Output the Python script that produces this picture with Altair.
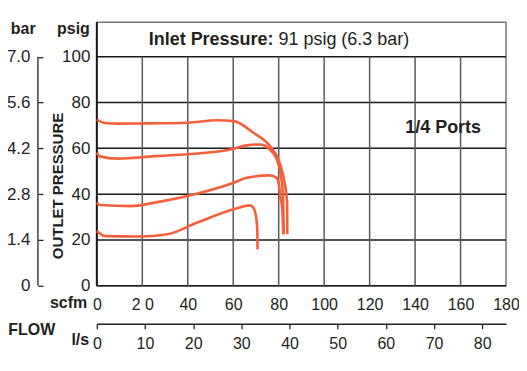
import altair as alt
import pandas as pd

FONT = "Liberation Sans"
TXT = "#231f20"
ORANGE = "#f5603a"

# ---- data ----
psig_ticks = [0, 20, 40, 60, 80, 100]
scfm_ticks = [0, 20, 40, 60, 80, 100, 120, 140, 160, 180]
scfm_grid = [20, 40, 60, 80, 100, 120, 140, 160]
ls_ticks = [0, 10, 20, 30, 40, 50, 60, 70, 80]
SCFM_PER_LS = 2.11888

c1_scfm = [0, 3.3, 9.4, 22.5, 39.9, 52.9, 60.2, 68.9, 76.1, 80.4, 82.6, 83.7, 83.8]
c1_psig = [72.6, 71.1, 70.8, 70.9, 71.2, 72.3, 71.9, 66.8, 61.0, 53.7, 45.0, 36.3, 22.5]

c2_scfm = [0, 1.2, 9.4, 25.4, 39.9, 58.7, 66.0, 71.7, 76.1, 79.7, 81.2, 81.9, 82.2]
c2_psig = [58.1, 56.5, 55.5, 56.6, 57.4, 59.5, 61.3, 61.7, 59.5, 53.7, 46.5, 39.2, 22.5]

c3_scfm = [0, 1.2, 15.2, 25.4, 39.9, 60.2, 66.0, 76.1, 79.0, 80.2, 80.7, 81.6, 82.0]
c3_psig = [36.3, 35.3, 34.8, 36.3, 39.2, 45.0, 47.2, 48.2, 47.2, 43.5, 39.2, 33.4, 22.5]

c4_scfm = [0, 3.7, 18.1, 31.2, 44.2, 60.2, 67.4, 68.9, 70.0, 70.6, 70.7]
c4_psig = [23.9, 21.7, 21.5, 22.5, 27.6, 33.4, 35.1, 34.1, 30.4, 24.6, 15.9]

rows = []
for name, xs, ys in [("c1", c1_scfm, c1_psig), ("c2", c2_scfm, c2_psig),
                     ("c3", c3_scfm, c3_psig), ("c4", c4_scfm, c4_psig)]:
    for i, (x, y) in enumerate(zip(xs, ys)):
        rows.append({"series": name, "idx": i, "scfm": x, "psig": y})
curves = pd.DataFrame(rows)

W, H = 410, 264
YTOP = H / 2.295

XS = alt.Scale(domain=[0, 180], nice=False, zero=False)
YS = alt.Scale(domain=[0, YTOP], nice=False, zero=False)

ycommon = dict(labelFont=FONT, labelFontSize=17, labelColor=TXT, grid=False,
               labelOverlap=False, labelFlush=False)
xcommon = dict(labelFont=FONT, labelFontSize=16, labelColor=TXT, grid=False,
               labelOverlap=False, labelFlush=False)

scfm_axis = alt.Axis(orient="bottom", values=scfm_ticks, tickSize=0, domain=False,
                     labelPadding=11, title=None,
                     labelExpr="datum.value == 20 ? '2 0' : datum.label", **xcommon)
psig_axis = alt.Axis(orient="left", values=psig_ticks, tickSize=0, domain=False,
                     labelPadding=7, title=None, **ycommon)
bar_axis = alt.Axis(orient="left", values=psig_ticks, tickSize=5, tickColor="#222",
                    tickWidth=1.3, domain=False, offset=54, labelPadding=8, title=None,
                    labelExpr="datum.value == 0 ? '0' : format(datum.value * 0.07, '.1f')",
                    **ycommon)
ls_axis = alt.Axis(orient="bottom", values=[v * SCFM_PER_LS for v in ls_ticks],
                   tickSize=5, tickColor="#222", tickWidth=1.3, domain=True,
                   domainColor="#222", domainWidth=1.5, offset=38, labelPadding=7,
                   title=None,
                   labelExpr=f"format(round(datum.value / {SCFM_PER_LS}), 'd')",
                   **xcommon)

hgrid = alt.Chart(pd.DataFrame({"p": psig_ticks})).mark_rule(
    color="#1a1a1a", strokeWidth=1.5).encode(
    y=alt.Y("p:Q", scale=YS, axis=None))

vgrid = alt.Chart(pd.DataFrame({"s": scfm_grid})).mark_rule(
    color="#5a5a5a", strokeWidth=1.5).encode(
    x=alt.X("s:Q", scale=XS, axis=None),
    y=alt.YDatum(0, scale=YS, axis=None),
    y2=alt.Y2Datum(100))

left_edge = alt.Chart(pd.DataFrame({"s": [0]})).mark_rule(
    color="#1a1a1a", strokeWidth=2).encode(
    x=alt.X("s:Q", scale=XS, axis=None),
    y=alt.YDatum(0, scale=YS, axis=None),
    y2=alt.Y2Datum(YTOP))

lines = alt.Chart(curves).mark_line(
    interpolate="monotone", color=ORANGE, strokeWidth=2.6).encode(
    x=alt.X("scfm:Q", scale=XS, axis=scfm_axis),
    y=alt.Y("psig:Q", scale=YS, axis=psig_axis),
    detail="series:N",
    order="idx:Q")

bar_line = alt.Chart(pd.DataFrame({"s": [0]})).mark_rule(
    color="#222", strokeWidth=1.3).encode(
    x=alt.value(-59),
    y=alt.YDatum(0, scale=YS, axis=bar_axis),
    y2=alt.Y2Datum(100))

ls_layer = alt.Chart(pd.DataFrame({"v": [v * SCFM_PER_LS for v in ls_ticks]})).mark_point(
    opacity=0).encode(
    x=alt.X("v:Q", scale=XS, axis=ls_axis),
    y=alt.value(0))


def txt(text, x, y, size=16, bold=True, align="center", angle=0):
    return alt.Chart(pd.DataFrame({"t": [text]})).mark_text(
        font=FONT, fontSize=size, fontWeight="bold" if bold else "normal",
        color=TXT, align=align, baseline="middle", angle=angle).encode(
        text="t:N", x=alt.value(x), y=alt.value(y))


texts = [
    txt("Inlet Pressure:", 177, 18, size=18, align="right"),
    txt("91 psig (6.3 bar)", 182, 18, size=18, bold=False, align="left"),
    txt("1/4 Ports", 347, 106, size=18),
    txt("bar", -73.7, 7),
    txt("psig", -7, 7, align="right"),
    txt("OUTLET PRESSURE", -39, 164, size=15, angle=270),
    txt("scfm", -9.7, 281, align="right"),
    txt("FLOW", -88.7, 308, align="left"),
    txt("l/s", -7.7, 318, align="right"),
]

chart = alt.layer(hgrid, vgrid, left_edge, lines, bar_line, ls_layer, *texts).properties(
    width=W, height=H,
    padding={"left": 89, "top": 14, "right": 13, "bottom": 68},
    autosize=alt.AutoSizeParams(type="none"),
).resolve_axis(x="independent", y="independent").configure_view(
    stroke="#777", strokeWidth=1.5)

chart.save("out.html", embed_options={"renderer": "svg", "actions": False})
